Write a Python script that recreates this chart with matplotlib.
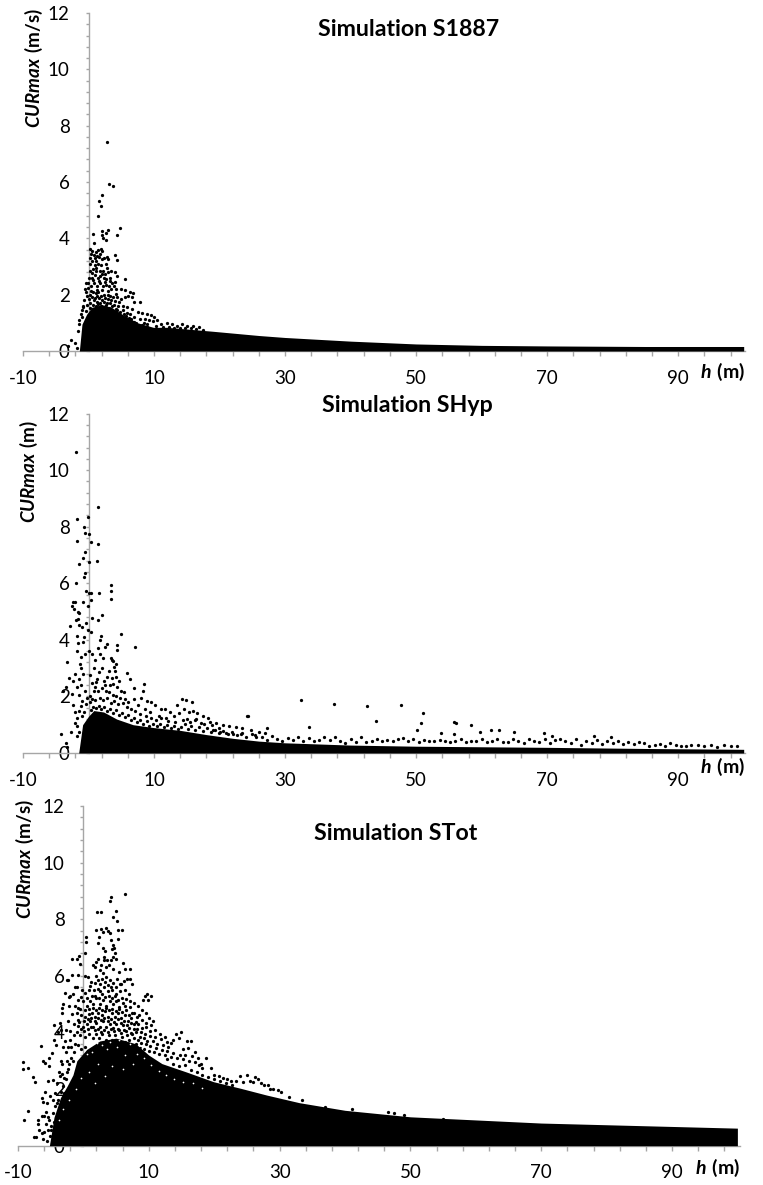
import numpy as np
import matplotlib
matplotlib.use('Agg')
import matplotlib.pyplot as plt

plt.rcParams['font.family'] = ['Lato', 'DejaVu Sans']
plt.rcParams['axes.unicode_minus'] = False
plt.rcParams['mathtext.fontset'] = 'custom'
plt.rcParams['mathtext.bf'] = 'Lato:bold'
plt.rcParams['mathtext.bfit'] = 'Lato:italic:bold'

W, H = 763, 1185
grey = '#a6a6a6'

x_labels = [-10, 10, 30, 50, 70, 90]
y_labels = [0, 2, 4, 6, 8, 10, 12]

# solid part of each cloud, top edge
s1887_edge_x = [-1.4, -1.0, -0.3, 0.5, 2.0, 3.5, 5.5, 7.5, 9.9, 12, 15, 19, 26, 30, 40, 50, 60, 70, 85, 100]
s1887_edge_y = [0.0, 0.95, 1.3, 1.55, 1.65, 1.55, 1.25, 1.0, 0.84, 0.84, 0.78, 0.7, 0.55, 0.48, 0.35, 0.25, 0.2, 0.18, 0.16, 0.16]

shyp_edge_x = [-1.5, -0.9, 0.0, 0.8, 2.3, 4.3, 6.8, 9.9, 14, 18, 22, 26, 30, 40, 50, 70, 85, 100]
shyp_edge_y = [0.0, 1.0, 1.3, 1.5, 1.45, 1.2, 1.0, 0.9, 0.8, 0.65, 0.52, 0.42, 0.36, 0.28, 0.24, 0.2, 0.16, 0.13]

stot_edge_x = [-5.2, -4.5, -3.5, -2.5, -1.6, -1, 0.5, 2.5, 5, 8, 10, 12, 15.8, 19.9, 24, 28, 33, 40, 50, 70, 90, 100]
stot_edge_y = [0.0, 1.0, 1.7, 2.1, 2.5, 3.0, 3.4, 3.7, 3.8, 3.6, 3.2, 2.9, 2.6, 2.26, 2.03, 1.79, 1.52, 1.25, 1.02, 0.8, 0.68, 0.62]

# loose points above the solid part
s1887_pts = [
    (2.88, 7.43), (3.18, 5.94), (3.79, 5.86), (2.11, 5.54), (1.65, 5.33), (1.96, 5.15), (1.5, 4.79),
    (4.86, 4.37), (4.3, 4.11), (3.03, 4.28), (2.67, 4.19), (2.11, 4.25), (2.11, 4.11), (0.74, 4.14),
    (2.67, 3.95), (2.26, 4.0), (0.23, 3.62), (0.84, 3.83), (1.86, 3.62), (4.05, 3.42), (4.4, 3.24),
    (2.88, 3.34), (0.5, 3.55), (0.8, 3.4), (1.2, 3.5), (1.5, 3.58), (2.1, 3.55), (1.6, 3.35), (1.8, 3.45),
    (1.0, 3.3), (0.3, 3.3), (0.2, 3.1), (0.6, 3.2), (1.2, 3.2), (1.5, 3.1), (2.0, 3.25), (2.4, 3.3),
    (3.0, 3.25), (2.6, 3.1), (2.8, 2.95), (0.2, 2.85), (0.7, 2.9), (1.2, 2.95), (1.7, 2.85), (2.2, 2.85),
    (3.0, 2.8), (3.5, 2.85), (4.0, 2.8), (4.4, 2.65), (5.6, 2.55), (-0.4, 2.4), (0.0, 2.6), (0.5, 2.6),
    (1.0, 2.7), (1.4, 2.6), (1.8, 2.65), (2.3, 2.6), (2.7, 2.55), (3.3, 2.6), (3.6, 2.4), (4.1, 2.45),
    (-0.6, 2.2), (-0.1, 2.25), (0.4, 2.3), (0.9, 2.4), (1.3, 2.3), (1.7, 2.4), (2.2, 2.3), (2.6, 2.35),
    (3.1, 2.3), (3.5, 2.2), (4.2, 2.2), (5.0, 2.2), (5.6, 2.15), (6.4, 2.1), (6.8, 2.05), (6.0, 1.95),
    (6.6, 1.9), (5.5, 1.9), (7.0, 1.75), (-0.7, 1.8), (-0.2, 1.95), (0.2, 2.0), (0.7, 2.1), (1.1, 2.05),
    (1.5, 2.1), (1.9, 1.95), (2.4, 2.0), (2.9, 2.0), (3.3, 1.95), (3.8, 1.9), (4.4, 1.9), (4.9, 1.85),
    (-0.8, 1.6), (-0.3, 1.65), (0.3, 1.7), (0.8, 1.8), (1.3, 1.75), (1.8, 1.7), (2.3, 1.75), (2.8, 1.7),
    (3.3, 1.7), (3.9, 1.65), (4.5, 1.6), (5.2, 1.6), (5.9, 1.55), (6.6, 1.5), (7.9, 1.75), (7.5, 1.4),
    (8.1, 1.35), (8.6, 1.15), (9.0, 1.3), (9.5, 1.28), (10.0, 1.22), (10.5, 1.1), (9.3, 1.1), (9.9, 1.05),
    (11.0, 0.95), (12.0, 0.98), (12.8, 0.95), (13.5, 0.9), (14.3, 0.95), (15.1, 0.9), (16.0, 0.88),
    (16.8, 0.85), (7.0, 1.2), (7.8, 1.15), (6.3, 1.3), (5.8, 1.35), (8.5, 1.0), (9.0, 0.95), (4.6, 1.75),
    (5.2, 1.45), (-2.67, 0.4), (-2.06, 0.3), (-3.08, 0.19), (-1.5, 1.1), (-1.2, 1.3), (-1.4, 0.95),
    (-1.0, 1.2), (-1.0, 1.45), (-0.9, 1.55), (-1.6, 0.7), (-1.7, 0.1),
    (-0.45, 1.42), (0.15, 1.53), (0.62, 1.62), (1.07, 1.58), (1.43, 1.66), (1.92, 1.61), (2.35, 1.57),
    (2.72, 1.63), (3.14, 1.52), (3.57, 1.58), (4.12, 1.49), (4.36, 1.44), (4.83, 1.38), (5.37, 1.31),
    (5.66, 1.26), (6.12, 1.18), (6.55, 1.12), (6.94, 1.03), (7.3, 0.98), (8.15, 0.93), (8.92, 0.86),
    (10.3, 0.87), (11.4, 0.84), (12.3, 0.86), (13.1, 0.83), (14.0, 0.82), (14.8, 0.83), (15.6, 0.8),
    (16.4, 0.77), (17.5, 0.74), (0.05, 1.83), (0.46, 1.92), (0.98, 1.87), (1.24, 1.96), (1.62, 1.88),
    (2.07, 1.82), (2.52, 1.88), (3.03, 1.84), (3.48, 1.81), (4.03, 1.76), (4.21, 2.03), (2.91, 2.13),
    (2.12, 2.15), (1.28, 2.17), (0.37, 2.13), (-0.32, 2.08), (3.82, 2.31), (3.22, 2.47), (2.45, 2.46),
    (1.57, 2.49), (0.72, 2.52), (-0.15, 2.43), (2.03, 2.72), (1.12, 2.83), (0.48, 2.76), (2.46, 2.74),
    (1.93, 3.05), (0.92, 3.07), (0.44, 3.45), (1.33, 3.38),
]

shyp_pts = [
    (-1.86, 10.65), (1.5, 8.69), (-1.7, 8.27), (-0.03, 8.35), (-0.64, 8.0), (-0.53, 7.79), (0.08, 7.73),
    (-1.7, 7.49), (0.43, 7.46), (1.5, 7.38), (-0.58, 7.12), (-0.89, 6.88), (-1.4, 6.67), (0.13, 6.75),
    (1.35, 6.79), (-0.53, 6.35), (-0.69, 6.24), (-1.96, 6.0), (3.49, 5.94), (3.49, 5.72), (3.49, 5.44),
    (-0.33, 5.72), (0.13, 5.67), (0.43, 5.65), (1.65, 5.67), (-2.42, 5.34), (-2.0, 5.34), (-2.52, 5.2),
    (-2.2, 5.08), (-1.65, 5.0), (-1.4, 4.96), (-0.79, 5.33), (0.43, 5.41), (-0.03, 5.18), (2.11, 4.87),
    (0.58, 4.79), (1.4, 4.7), (-1.9, 4.7), (-1.55, 4.73), (-2.77, 4.49), (-1.5, 4.53), (-0.94, 4.47),
    (-0.33, 4.61), (-0.03, 4.35), (0.43, 4.29), (4.91, 4.21), (-1.8, 4.14), (-0.64, 4.09), (1.86, 4.12),
    (1.76, 3.98), (7.05, 3.74), (4.35, 3.82), (4.4, 3.65), (2.88, 3.86), (2.57, 3.76), (1.5, 3.7),
    (-1.6, 3.9), (-0.8, 3.92), (-1.8, 3.6), (-1.2, 3.4), (-0.5, 3.5), (0.0, 3.6), (0.6, 3.5), (1.0, 3.3),
    (1.8, 3.5), (2.2, 3.35), (3.5, 3.35), (3.8, 3.25), (-3.28, 3.22), (-2.93, 2.65), (-2.0, 2.8), (-3.5, 2.33),
    (-3.9, 2.2), (-2.5, 2.1), (-1.2, 3.0), (-0.8, 2.8), (-1.5, 2.6), (-1.1, 2.4), (0.3, 2.75), (0.9, 3.0),
    (1.6, 2.85), (2.0, 3.0), (3.9, 3.05), (4.0, 2.9), (4.2, 2.7), (4.6, 2.55), (5.93, 2.82), (6.34, 2.61),
    (1.2, 2.5), (2.3, 2.55), (2.8, 2.7), (3.3, 2.4), (3.8, 2.45), (4.4, 2.35), (5.0, 2.2), (5.4, 2.15),
    (-0.5, 2.2), (0.3, 2.0), (0.8, 2.2), (1.5, 2.2), (2.1, 2.3), (2.6, 2.2), (3.1, 2.15), (3.7, 2.05),
    (4.2, 2.0), (4.8, 1.95), (5.6, 1.9), (6.1, 1.8), (8.47, 2.44), (8.27, 2.18), (7.0, 2.3), (6.9, 1.9),
    (8.0, 1.95), (9.0, 1.85), (9.6, 1.8), (10.2, 1.7), (7.5, 1.7), (8.6, 1.55), (9.4, 1.45), (11.0, 1.55),
    (11.6, 1.55), (12.4, 1.45), (10.7, 1.3), (11.8, 1.25), (13.0, 1.3), (14.2, 1.92), (14.9, 1.86),
    (15.75, 1.81), (13.56, 1.68), (13.8, 1.4), (14.6, 1.55), (15.3, 1.45), (16.0, 1.5), (16.6, 1.4),
    (17.4, 1.3), (18.2, 1.25), (15.0, 1.2), (16.2, 1.15), (17.2, 1.05), (18.6, 1.1), (19.5, 1.05),
    (20.5, 0.98), (21.5, 0.95), (22.5, 0.92), (24.25, 1.32), (23.5, 0.88), (24.8, 0.8), (26.0, 0.75),
    (19.0, 0.8), (20.0, 0.75), (21.0, 0.72), (22.0, 0.68), (23.2, 0.66), (24.4, 1.3), (25.4, 0.62), (27.0, 0.7),
    (-2.3, 1.7), (-2.0, 1.45), (-1.7, 1.25), (-1.4, 1.5), (-1.1, 1.65), (-0.7, 1.45), (-2.1, 1.05), (-1.8, 0.95),
    (-4.15, 0.67), (-3.44, 0.35), (-2.7, 0.76), (-3.3, 0.2), (-1.7, 0.6), (-1.5, 0.75),
    (0.35, 1.52), (0.7, 1.63), (1.1, 1.58), (1.55, 1.66), (1.95, 1.54), (2.38, 1.61), (2.85, 1.49),
    (3.25, 1.57), (3.72, 1.43), (4.15, 1.52), (4.62, 1.36), (5.1, 1.41), (5.55, 1.27), (6.05, 1.33),
    (6.48, 1.18), (6.95, 1.25), (7.4, 1.09), (7.85, 1.16), (8.35, 1.03), (8.85, 1.12), (9.3, 0.97),
    (9.85, 1.04), (10.4, 0.94), (10.95, 1.02), (11.45, 0.91), (12.0, 0.99), (12.55, 0.88), (13.1, 0.96),
    (13.6, 0.85), (14.1, 0.93), (14.7, 1.03), (15.2, 0.86), (15.7, 0.95), (16.3, 0.82), (16.9, 0.91),
    (17.5, 0.79), (18.1, 0.87), (18.7, 0.74), (19.3, 0.83), (19.9, 0.7), (20.6, 0.78), (21.3, 0.66),
    (21.9, 0.74), (22.7, 0.62), (23.4, 0.71), (24.1, 0.58), (24.9, 0.66), (25.6, 0.55),
    (0.15, 1.82), (0.6, 1.92), (1.05, 1.86), (1.7, 1.96), (2.25, 1.87), (2.75, 1.93), (3.4, 1.78),
    (3.95, 1.83), (4.5, 1.72), (5.2, 1.76), (5.85, 1.62), (6.5, 1.54), (7.15, 1.47), (7.9, 1.38),
    (8.7, 1.31), (9.55, 1.22), (10.3, 1.16), (11.1, 1.24), (12.1, 1.12), (13.2, 1.08), (14.4, 1.16),
    (15.5, 1.1), (16.4, 1.2), (17.6, 1.03), (18.9, 0.98), (19.9, 0.9), (1.0, 2.34), (1.3, 2.62), (0.5, 2.48),
    (2.45, 2.42), (3.55, 2.66), (3.1, 2.9), (4.15, 3.14), (3.66, 3.3), (-0.45, 1.72), (-0.95, 1.85),
    (-0.2, 1.95), (-1.4, 2.05), (-1.7, 2.35), (-2.4, 2.55), (-1.3, 3.15), (-1.0, 1.3),
    (32.5, 1.86), (37.4, 1.75), (42.5, 1.65), (47.7, 1.68), (43.9, 1.14), (51.0, 1.4), (50.7, 1.05),
    (50.2, 0.82), (33.6, 0.93), (27.2, 0.89), (55.8, 1.1), (56.1, 1.07), (58.4, 0.98), (59.8, 0.75),
    (61.4, 0.82), (62.6, 0.82), (65.0, 0.73), (53.8, 0.7), (55.8, 0.66), (69.5, 0.69), (70.7, 0.61),
    (77.2, 0.61), (79.7, 0.55),
    (26.5, 0.55), (27.2, 0.47), (28.0, 0.6), (28.8, 0.5), (29.6, 0.42), (30.4, 0.52), (31.2, 0.45),
    (32.0, 0.55), (32.8, 0.43), (33.6, 0.52), (34.4, 0.42), (35.2, 0.47), (36.0, 0.56), (36.8, 0.45),
    (37.6, 0.58), (38.4, 0.44), (39.2, 0.36), (40.0, 0.5), (40.8, 0.38), (41.6, 0.55), (42.4, 0.38),
    (43.2, 0.42), (44.0, 0.5), (44.8, 0.42), (45.6, 0.45), (46.4, 0.42), (47.2, 0.5), (48.0, 0.52),
    (48.8, 0.42), (49.6, 0.48), (50.4, 0.4), (51.2, 0.46), (52.0, 0.42), (52.8, 0.42), (53.6, 0.45),
    (54.4, 0.42), (55.2, 0.38), (56.0, 0.42), (56.8, 0.48), (57.6, 0.38), (58.4, 0.44), (59.2, 0.42),
    (60.0, 0.48), (60.8, 0.38), (61.6, 0.42), (62.4, 0.5), (63.2, 0.4), (64.0, 0.38), (64.8, 0.5),
    (65.6, 0.42), (66.4, 0.36), (67.2, 0.5), (68.0, 0.44), (68.8, 0.38), (69.6, 0.5), (70.4, 0.36),
    (71.2, 0.45), (72.0, 0.5), (72.8, 0.42), (73.6, 0.36), (74.4, 0.48), (75.2, 0.3), (76.0, 0.44),
    (76.8, 0.36), (77.6, 0.46), (78.4, 0.32), (79.2, 0.44), (80.0, 0.36), (80.8, 0.42), (81.6, 0.32),
    (82.4, 0.38), (83.2, 0.32), (84.0, 0.4), (84.8, 0.34), (85.6, 0.26), (86.4, 0.28), (87.2, 0.32),
    (88.0, 0.26), (88.8, 0.34), (89.6, 0.28), (90.4, 0.26), (91.2, 0.25), (92.0, 0.28), (93.0, 0.3),
    (94.0, 0.25), (95.0, 0.28), (96.0, 0.22), (97.0, 0.28), (98.0, 0.26), (99.0, 0.25),
]

stot_pts = [
    (6.33, 8.88), (4.18, 8.78), (4.03, 8.65), (2.14, 8.27), (2.76, 8.27), (5.05, 8.3), (4.49, 8.09),
    (5.2, 7.93), (1.99, 7.61), (2.7, 7.64), (2.96, 7.56), (3.83, 7.6), (4.08, 7.53), (5.26, 7.62),
    (5.87, 7.63), (2.45, 7.39), (5.36, 7.31), (0.46, 7.39), (0.46, 7.2), (2.19, 7.15), (4.59, 7.09),
    (4.69, 6.97), (3.06, 6.97), (3.32, 6.89), (4.8, 6.8), (0.31, 6.82), (-0.71, 6.71), (-1.02, 6.61),
    (-1.68, 6.58), (-0.46, 6.41), (2.3, 6.6), (2.0, 6.5), (1.5, 6.4), (1.8, 6.3), (3.1, 6.65), (3.2, 6.55),
    (4.6, 6.65), (5.0, 6.6), (6.1, 6.45), (6.4, 6.25), (7.1, 6.25), (3.4, 6.3), (3.9, 6.4), (4.5, 6.25),
    (2.6, 6.2), (3.0, 6.1), (5.4, 6.15), (6.7, 5.9), (7.2, 5.9), (7.4, 5.7), (-1.68, 6.03), (-0.76, 6.03),
    (-2.55, 5.85), (-2.3, 5.85), (0.3, 6.0), (0.7, 5.95), (1.2, 5.8), (1.7, 5.75), (2.3, 5.85), (2.9, 5.9),
    (3.5, 5.95), (4.0, 5.85), (4.6, 5.75), (5.2, 5.9), (5.8, 5.7), (-2.8, 5.38), (-3.15, 5.0), (-3.25, 4.85),
    (-3.3, 4.7), (-2.2, 5.25), (-2.0, 5.3), (-2.2, 4.95), (-1.0, 5.6), (-0.2, 5.5), (0.3, 5.4), (0.8, 5.5),
    (1.6, 5.5), (2.2, 5.55), (2.6, 5.45), (3.2, 5.6), (3.8, 5.45), (4.4, 5.5), (5.0, 5.35), (5.6, 5.45),
    (6.3, 5.5), (6.9, 5.35), (9.4, 5.3), (9.8, 5.35), (9.9, 5.15), (9.1, 5.15), (10.4, 5.3), (8.9, 4.8),
    (9.5, 4.7), (-1.0, 4.7), (-0.8, 4.85), (0.5, 4.95), (1.0, 5.1), (1.5, 5.0), (2.0, 5.2), (2.5, 5.0),
    (3.0, 5.15), (3.5, 4.95), (4.0, 5.1), (4.5, 5.0), (5.0, 5.1), (5.5, 4.9), (6.0, 5.05), (6.5, 4.8),
    (7.2, 4.9), (7.8, 4.7), (8.2, 4.55), (9.0, 4.45), (10.0, 4.5), (10.7, 4.4), (-4.44, 4.26), (-3.57, 4.32),
    (-4.5, 3.73), (-4.2, 3.56), (-3.9, 4.0), (-3.4, 4.1), (-2.3, 4.4), (-1.5, 4.3), (-0.9, 4.45), (-0.3, 4.6),
    (0.2, 4.55), (0.8, 4.65), (1.3, 4.7), (1.8, 4.55), (2.3, 4.7), (2.8, 4.6), (3.3, 4.75), (3.8, 4.55),
    (4.3, 4.7), (4.8, 4.55), (5.3, 4.7), (5.8, 4.5), (6.3, 4.6), (6.8, 4.4), (7.3, 4.5), (7.8, 4.3),
    (8.4, 4.3), (9.0, 4.15), (9.6, 4.2), (10.2, 4.05), (11.0, 4.1), (11.7, 3.95), (12.5, 3.85), (14.2, 3.95),
    (14.9, 4.0), (13.7, 3.75), (14.6, 3.8), (15.8, 3.7), (16.5, 3.7), (0.0, 4.2), (0.5, 4.3), (1.0, 4.4),
    (1.5, 4.2), (2.0, 4.35), (2.5, 4.2), (3.0, 4.4), (3.5, 4.2), (4.0, 4.3), (4.5, 4.15), (5.0, 4.3),
    (5.5, 4.1), (6.0, 4.25), (6.5, 4.05), (7.0, 4.15), (7.5, 3.95), (8.0, 4.0), (8.6, 3.85), (9.2, 3.8),
    (9.8, 3.7), (10.6, 3.7), (11.3, 3.6), (12.2, 3.55), (13.0, 3.5), (15.3, 3.4), (16.0, 3.45), (17.0, 3.3),
    (-1.5, 3.9), (-1.0, 4.0), (-0.5, 3.9), (0.3, 3.85), (0.9, 3.95), (1.4, 3.8), (1.9, 3.95), (2.4, 3.8),
    (2.9, 3.95), (3.4, 3.75), (3.9, 3.9), (4.4, 3.75), (4.9, 3.9), (5.4, 3.7), (5.9, 3.85), (6.4, 3.65),
    (6.9, 3.75), (7.4, 3.55), (8.0, 3.6), (8.6, 3.45), (9.3, 3.4), (10.0, 3.35), (10.8, 3.3), (11.6, 3.25),
    (12.5, 3.2), (13.4, 3.15), (14.3, 3.1), (15.2, 3.05), (16.1, 3.0), (17.0, 2.95), (18.0, 2.9), (18.8, 3.1),
    (-1.9, 3.5), (-1.4, 3.3), (-0.9, 3.55), (-0.4, 3.4), (0.2, 3.5),
    (-6.48, 3.52), (-9.18, 2.96), (-9.18, 2.7), (-8.4, 2.73),
    (-7.65, 2.43), (-7.4, 2.25), (-6.2, 2.98), (-5.9, 2.93), (-5.2, 3.09), (-4.8, 3.29), (-5.2, 2.82),
    (-3.4, 3.0), (-3.2, 2.9), (-2.6, 3.3), (-2.5, 3.0), (-2.4, 2.7), (-8.47, 1.21), (-9.08, 0.9), (-7.5, 0.32),
    (-7.24, 0.29), (-6.3, 1.05), (-6.0, 1.05), (-6.9, 0.9), (-6.9, 0.78), (-6.75, 0.57), (-6.3, 0.44),
    (-6.0, 0.47), (-6.4, 1.67), (-6.2, 1.55), (-5.87, 1.9), (-5.36, 2.28), (-4.6, 2.32), (-4.0, 2.2),
    (-3.6, 2.45), (-3.1, 2.1), (-2.7, 2.35), (-5.5, 1.5), (-5.1, 1.75), (-4.7, 1.6), (-4.3, 1.85), (-3.9, 1.6),
    (-3.5, 1.9), (-5.7, 1.2), (-5.4, 1.0), (-5.7, 0.75), (-5.4, 0.55), (-5.1, 0.35), (-4.9, 0.55), (-4.8, 0.1),
    (19.5, 2.75), (20.0, 2.5), (20.7, 2.45), (21.4, 2.4), (22.0, 2.35), (22.6, 2.3), (23.3, 2.3), (24.0, 2.45),
    (24.4, 2.25), (25.0, 2.5), (25.4, 2.3), (25.9, 2.25), (26.2, 2.42), (26.7, 2.35), (27.1, 2.2), (27.6, 2.15),
    (28.2, 2.15), (28.6, 2.02), (29.0, 2.0), (29.8, 1.95), (30.2, 1.9), (31.5, 1.72), (18.2, 2.75), (17.6, 2.85),
    (33.5, 1.6), (37.0, 1.38), (41.0, 1.28), (46.5, 1.2), (47.5, 1.17), (49.0, 1.1), (55.0, 0.96),
    (-0.85, 4.22), (-0.35, 4.13), (0.12, 4.05), (0.65, 4.12), (1.22, 4.18), (1.78, 4.08), (2.24, 4.14),
    (2.72, 4.02), (3.18, 4.1), (3.72, 4.02), (4.22, 4.12), (4.72, 4.04), (5.22, 4.14), (5.72, 3.98),
    (6.25, 4.08), (6.72, 3.92), (7.25, 3.98), (7.72, 3.82), (8.28, 3.72), (8.85, 3.62), (9.52, 3.58),
    (10.25, 3.52), (11.05, 3.46), (11.95, 3.38), (12.85, 3.34), (13.75, 3.28), (14.7, 3.22), (15.6, 3.2),
    (16.55, 3.16), (17.55, 3.1), (-0.62, 4.36), (0.08, 4.42), (0.72, 4.48), (1.22, 4.52), (1.72, 4.42),
    (2.22, 4.5), (2.72, 4.44), (3.22, 4.52), (3.72, 4.42), (4.22, 4.48), (4.72, 4.38), (5.22, 4.46),
    (5.72, 4.32), (6.22, 4.42), (6.72, 4.26), (7.22, 4.32), (7.72, 4.12), (8.22, 4.12), (8.82, 4.0),
    (9.45, 3.95), (10.12, 3.88), (10.92, 3.85), (11.82, 3.78), (12.72, 3.68), (13.4, 3.62),
    (-0.5, 4.82), (0.18, 4.78), (0.92, 4.82), (1.42, 4.85), (1.92, 4.78), (2.42, 4.86), (2.92, 4.78),
    (3.42, 4.86), (3.92, 4.78), (4.42, 4.84), (4.92, 4.76), (5.42, 4.84), (5.92, 4.72), (6.42, 4.95),
    (6.92, 4.62), (7.42, 4.7), (8.02, 4.38), (8.52, 4.62), (9.55, 4.35), (10.3, 4.25),
    (-0.85, 5.15), (0.55, 5.2), (1.25, 5.28), (1.85, 5.3), (2.35, 5.22), (2.85, 5.35), (3.35, 5.25),
    (3.85, 5.3), (4.35, 5.2), (4.85, 5.28), (5.35, 5.15), (5.85, 5.22), (6.55, 5.18), (7.1, 5.12),
    (7.7, 5.05), (8.3, 4.95), (1.05, 5.65), (1.95, 5.98), (2.55, 5.72), (3.35, 5.78), (3.75, 5.68),
    (4.25, 5.62), (4.95, 5.62), (5.55, 5.72), (6.15, 5.82), (2.75, 6.4), (3.55, 6.55), (4.15, 6.55),
    (4.35, 6.95), (4.25, 7.25), (3.45, 7.7), (-3.05, 3.5), (-2.75, 3.7), (-2.4, 3.5), (-2.05, 3.75),
    (-2.65, 4.1), (-2.0, 4.05), (-1.7, 4.65), (-1.3, 4.95), (-1.55, 5.35), (-1.35, 5.6), (-0.4, 5.25),
    (-0.1, 5.1), (-3.7, 2.6), (-3.3, 2.55), (-2.95, 2.4), (-2.55, 2.6), (-2.2, 2.9), (-1.9, 3.1),
    (-1.55, 3.0), (-1.25, 3.6), (-3.0, 1.85), (-4.35, 1.4), (-4.7, 1.15), (-4.1, 1.5), (-5.2, 0.9),
    (-4.9, 0.7), (-4.55, 0.85), (-6.15, 0.25), (-5.6, 0.15), (12.8, 3.05), (13.7, 2.9), (14.6, 2.8),
    (15.5, 2.85), (16.4, 2.68), (17.3, 2.6), (18.2, 2.5), (19.1, 2.42), (20.0, 2.35), (20.9, 2.3),
    (21.8, 2.2), (22.7, 2.15),
]

# white specks inside the solid part of the third cloud
stot_gaps = [
    (1.3, 3.3), (2.2, 2.9), (3.6, 3.4), (5.1, 3.5), (6.3, 3.2), (7.1, 3.6), (8.2, 3.25), (9.3, 3.1),
    (4.4, 2.8), (2.9, 3.55), (0.9, 2.6), (-0.4, 2.4), (-1.2, 2.0), (-2.2, 1.6), (-3.1, 1.3), (-3.8, 0.9),
    (10.4, 2.85), (11.6, 2.65), (12.7, 2.5), (13.9, 2.35), (6.0, 2.7), (7.6, 2.9), (3.3, 2.45), (1.8, 2.2),
    (15.2, 2.25), (5.4, 3.75), (4.1, 3.65), (2.1, 3.62), (0.6, 3.25), (8.9, 3.45), (16.8, 2.2), (18.2, 2.05),
]


def px_x(p):
    return p / W


def px_y(p):
    return 1 - p / H


def draw_panel(box, xlim, edge_x, edge_y, pts, gaps=None):
    left, right, bottom, top = box
    ax = fig.add_axes([px_x(left), px_y(bottom), (right - left) / W, (bottom - top) / H])
    ax.set_xlim(xlim)
    ax.set_ylim(0, 12)
    ax.patch.set_visible(False)

    ax.fill_between(edge_x, 0, edge_y, color='black', lw=0, zorder=3, clip_on=False)
    p = np.array(pts)
    ax.scatter(p[:, 0], p[:, 1], s=5.5, color='black', linewidths=0, zorder=3, clip_on=False)
    if gaps is not None:
        g = np.array(gaps)
        ax.scatter(g[:, 0], g[:, 1], s=1.5, color='white', linewidths=0, zorder=4)

    for side in ['top', 'right']:
        ax.spines[side].set_visible(False)
    ax.spines['left'].set_position(('data', 0))
    for side in ['left', 'bottom']:
        ax.spines[side].set_color(grey)
        ax.spines[side].set_linewidth(1)

    ax.set_xticks(x_labels)
    ax.set_xticks(np.arange(-10, 100, 4), minor=True)
    ax.set_yticks(y_labels)
    ax.set_yticks(np.arange(0, 12.01, 0.4), minor=True)
    ax.tick_params(axis='both', which='both', color=grey, width=1, labelsize=13.5, labelcolor='black')
    ax.tick_params(axis='x', which='both', length=3.5, pad=10)
    ax.tick_params(axis='y', which='both', length=2.5, pad=11)
    return ax


fig = plt.figure(figsize=(W / 100, H / 100), dpi=100)

draw_panel((23, 745, 351, 13), (-10, 100.2), s1887_edge_x, s1887_edge_y, s1887_pts)
draw_panel((23, 745, 753, 413.6), (-10, 100.2), shyp_edge_x, shyp_edge_y, shyp_pts)
draw_panel((18, 740, 1145.7, 806), (-10, 100.4), stot_edge_x, stot_edge_y, stot_pts, stot_gaps)

titles = [('Simulation S1887', 409, 29), ('Simulation SHyp', 407, 406), ('Simulation STot', 396, 833)]
for t, x, y in titles:
    fig.text(px_x(x), px_y(y), t, ha='center', va='center', fontsize=16.7, fontweight='bold')

y_names = [(r'$\mathbfit{CURmax}\ \mathbf{(m/s)}$', 34, 68),
           (r'$\mathbfit{CURmax}\ \mathbf{(m)}$', 29, 471),
           (r'$\mathbfit{CURmax}\ \mathbf{(m/s)}$', 25, 859)]
for t, x, y in y_names:
    fig.text(px_x(x), px_y(y), t, rotation=90, ha='center', va='center', fontsize=13.5)

for x, y in [(723, 372), (723, 767), (718, 1168)]:
    fig.text(px_x(x), px_y(y), r'$\mathbfit{h}\ \mathbf{(m)}$', ha='center', va='center', fontsize=14)

fig.savefig('out.png', dpi=100)
